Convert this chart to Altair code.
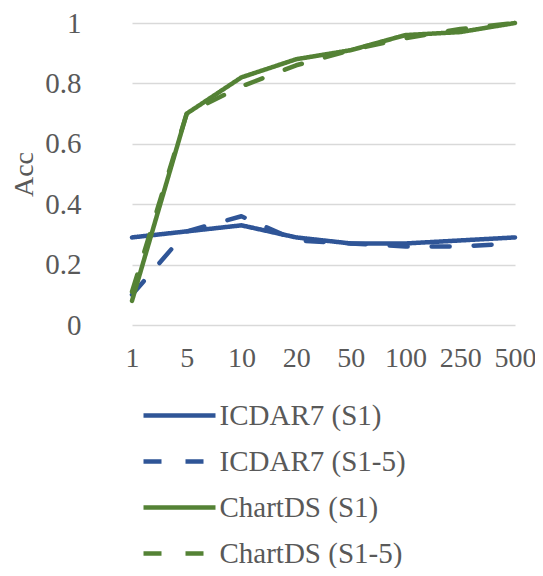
import altair as alt
import pandas as pd

x_labels = ["1", "5", "10", "20", "50", "100", "250", "500"]
series_names = ["ICDAR7 (S1)", "ICDAR7 (S1-5)", "ChartDS (S1)", "ChartDS (S1-5)"]
icdar_s1 = [0.29, 0.31, 0.33, 0.29, 0.27, 0.27, 0.28, 0.29]
icdar_s15 = [0.10, 0.31, 0.36, 0.28, 0.27, 0.26, 0.26, 0.27]
chart_s1 = [0.08, 0.70, 0.82, 0.88, 0.91, 0.96, 0.97, 1.00]
chart_s15 = [0.11, 0.70, 0.79, 0.86, 0.91, 0.95, 0.98, 1.00]

colors = ["#2F5597", "#2F5597", "#548235", "#548235"]
dashes = [[1, 0], [18, 24], [1, 0], [18, 24]]

rows = []
for name, vals in zip(series_names, [icdar_s1, icdar_s15, chart_s1, chart_s15]):
    for xl, v in zip(x_labels, vals):
        rows.append({"x": xl, "acc": v, "series": name})
df = pd.DataFrame(rows)

FONT = "Liberation Serif"
TXT = "#595959"
FS = 29

chart = alt.Chart(df).mark_line(strokeWidth=4.5, strokeCap="round", strokeJoin="round").encode(
    x=alt.X("x:O", sort=x_labels, scale=alt.Scale(padding=0, range=[27, 410]),
            axis=alt.Axis(title=None, labelAngle=0, ticks=False, domain=False,
                          labelFontSize=28, labelFont=FONT, labelColor=TXT, labelPadding=19)),
    y=alt.Y("acc:Q", scale=alt.Scale(domain=[0, 1]),
            axis=alt.Axis(title="Acc", values=[0, 0.2, 0.4, 0.6, 0.8, 1.0], format="~g",
                          ticks=False, domain=False, gridColor="#D9D9D9", gridWidth=1.5,
                          labelFontSize=FS, labelFont=FONT, labelColor=TXT, labelPadding=24,
                          titleFont=FONT, titleFontSize=28, titleFontWeight="normal",
                          titleColor=TXT, titlePadding=6)),
    color=alt.Color("series:N", sort=series_names,
                    scale=alt.Scale(domain=series_names, range=colors),
                    legend=alt.Legend(title=None, orient="none", legendX=36, legendY=378,
                                      direction="vertical", symbolType="M-1,0H5",
                                      symbolSize=576, symbolStrokeWidth=4.5,
                                      labelFont=FONT, labelFontSize=FS, labelColor=TXT,
                                      labelLimit=400, labelOffset=49.5, rowPadding=16)),
    strokeDash=alt.StrokeDash("series:N", sort=series_names,
                              scale=alt.Scale(domain=series_names, range=dashes),
                              legend=None),
).properties(
    width=430, height=302,
    autosize=alt.AutoSizeParams(type="none"),
    padding={"left": 97, "top": 15, "right": 0, "bottom": 243},
).configure_view(stroke=None)

chart.save("out.html", embed_options={"renderer": "svg", "actions": False})
